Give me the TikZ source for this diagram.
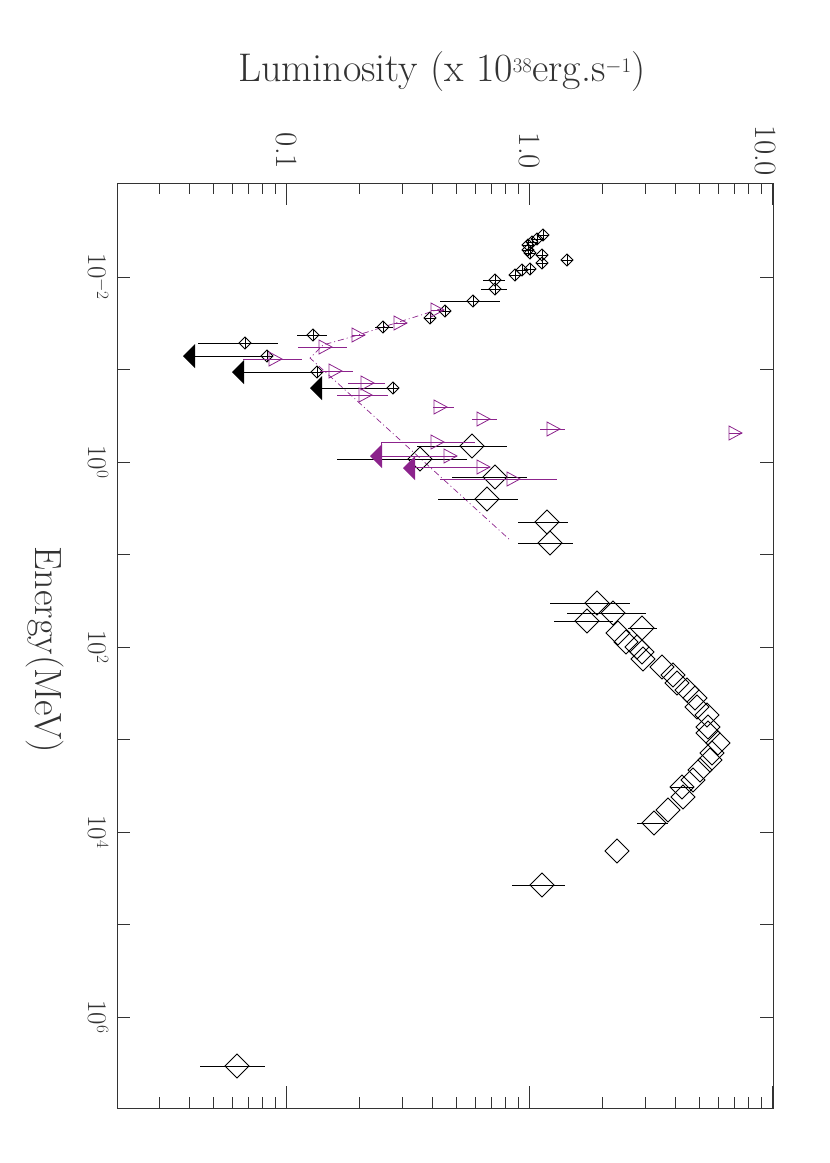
\documentclass[tikz,border=0pt]{standalone}
\definecolor{pur}{RGB}{140,35,140}
\begin{document}
\begin{tikzpicture}[x=1pt,y=-1pt,line width=0.8pt]
\useasboundingbox (0,0) rectangle (830,1163);
\tikzset{
 sdia/.pic={\draw (-6,0)--(0,-6)--(6,0)--(0,6)--cycle; \draw (-6,0)--(6,0) (0,-6)--(0,6);},
 bdia/.pic={\draw (-12,0)--(0,-12)--(12,0)--(0,12)--cycle;},
 ptri/.pic={\draw[pur] (-6,-7)--(7,0)--(-6,7)--cycle; \draw[pur] (-6,0)--(7,0);},
 lab/.style={text=black!80},
}
% frame
\draw[line width=0.6pt,black!80] (117,183) rectangle (773,1108);
% luminosity ticks
\foreach \d in {-2,-1,0,1}{
 \foreach \m in {1,...,9}{
  \pgfmathsetmacro{\xx}{529+243*(\d+log10(\m))}
  \pgfmathsetmacro{\len}{(\m==1)?22:11}
  \ifdim\xx pt>118pt \ifdim\xx pt<773pt
   \draw[line width=0.6pt,black!80] (\xx,183)--++(0,\len);
   \draw[line width=0.6pt,black!80] (\xx,1108)--++(0,-\len);
  \fi\fi
 }}
% energy ticks
\foreach \e in {-2,...,6}{
 \pgfmathsetmacro{\yy}{462+92.5*\e}
 \draw[line width=0.6pt,black!80] (117,\yy)--++(13,0) (773,\yy)--++(-13,0);
}
\foreach \e in {-2,0,2,4,6}{
 \pgfmathsetmacro{\yy}{462+92.5*\e}
 \node[lab,rotate=-90,font=\fontsize{27}{27}\selectfont] (el\e) at (98,\yy) {10$^{\e}$};
}
\node[lab,rotate=-90,font=\fontsize{31}{31}\selectfont] (l1) at (286,151) {0.1};
\node[lab,rotate=-90,font=\fontsize{31}{31}\selectfont] (l2) at (529,151) {1.0};
\node[lab,rotate=-90,font=\fontsize{31}{31}\selectfont] (l3) at (765,151) {10.0};
\node[lab,font=\fontsize{40}{40}\selectfont] (tt) at (442,72) {Luminosity (x 10$^{\scriptscriptstyle 38}$erg.s$^{\scriptscriptstyle -1}$)};
\node[lab,rotate=-90,font=\fontsize{38}{38}\selectfont] (xl) at (45,650) {Energy(MeV)};
% dash-dot purple
\draw[pur,dash pattern=on 6pt off 3pt on 1pt off 3pt,line width=0.7pt] (443,308)--(358,335)--(323,345)--(310,358)--(510,540);
% small black diamonds
\foreach \x/\y/\a/\b in {543/235/543/543,537/239/537/537,532/242/532/532,528/245/528/528,528/250/528/528,530/253/530/530,542/255/542/542,542/263/542/542,567/260/567/567,530/269/530/530,522/270/522/522,515/275/515/515,495/280/483/505,495/289/481/507,473/301/440/500,445/311/445/445,430/318/430/430,383/327/375/393,313/335/297/327,245/343/198/278,267/356/267/267,317/372/317/317,393/388/393/393}{
 \draw (\a,\y)--(\b,\y); \pic at (\x,\y) {sdia};}
% black upper limits
\foreach \x/\y/\t in {267/356/183,317/372/232,393/388/310}{
 \draw (\x,\y)--(\t+10,\y); \fill (\t,\y)--(\t+12,\y-12)--(\t+12,\y+12)--cycle;}
% big black diamonds
\foreach \x/\y/\a/\b in {472/446/417/507,420/459/337/467,495/477/452/527,487/499/438/518,547/522/518/568,550/543/518/573,597/603/550/630,613/613/567/646,587/621/554/613,642/628/628/657,618/633/618/618,626/642/626/626,637/647/637/637,642/652/642/642,643/659/643/643,662/667/662/662,673/675/673/673,677/683/677/677,687/690/687/687,695/698/695/695,697/707/697/697,707/715/707/707,708/727/708/708,708/733/708/708,718/743/718/718,712/753/712/712,710/760/710/710,700/770/700/700,693/780/693/693,682/787/670/693,683/797/683/683,668/810/668/668,654/823/637/668,617/851/617/617,542/885/512/565,237/1066/200/265}{
 \draw (\a,\y)--(\b,\y); \pic at (\x,\y) {bdia};}
% purple triangles
\foreach \x/\y/\a/\b in {437/310/437/437,400/323/400/400,358/335/358/358,325/347/298/347,275/359/243/302,335/371/320/353,367/383/348/385,365/395/337/388,440/407/433/454,483/419/472/497,553/429/540/565,735/433/735/735,437/442/381/475,450/456/380/453,483/467/413/490,513/479/440/557}{
 \draw[pur] (\a,\y)--(\b,\y); \pic at (\x,\y) {ptri};}
\draw[pur] (381,442)--(381,452);
% purple upper limits
\foreach \y/\t in {456/370,468/403}{
 \fill[pur] (\t,\y)--(\t+12,\y-12)--(\t+12,\y+12)--cycle;}
\end{tikzpicture}
\end{document}
